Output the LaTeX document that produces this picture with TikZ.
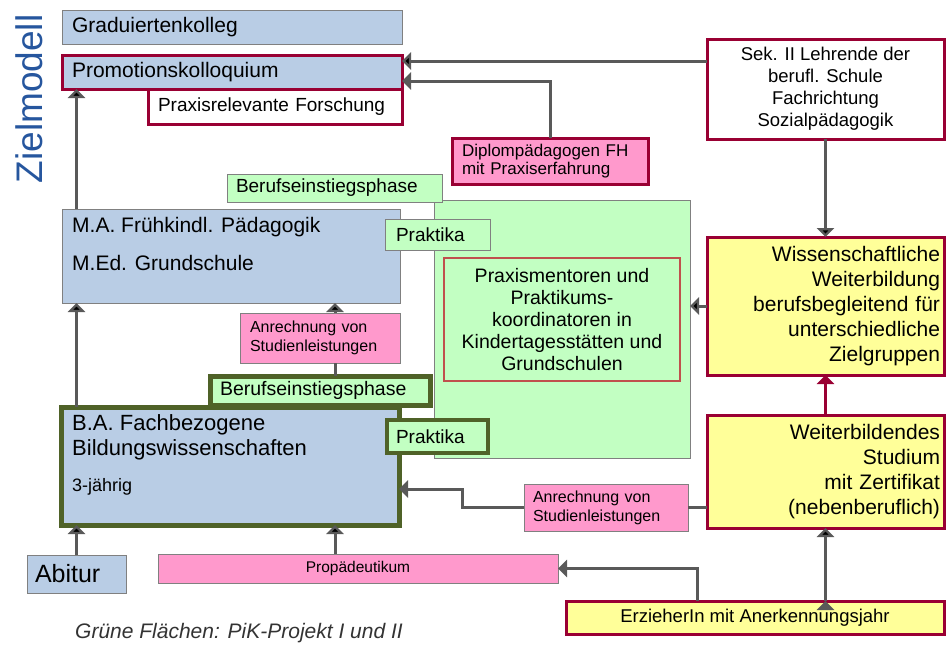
\documentclass[tikz,border=0pt]{standalone}
\usepackage{fontspec}
\setmainfont{Liberation Sans}
\usetikzlibrary{arrows.meta}
\definecolor{hellblau}{RGB}{185,205,229}
\definecolor{hellgruen}{RGB}{194,255,194}
\definecolor{rosa}{RGB}{255,153,204}
\definecolor{gelb}{RGB}{255,255,153}
\definecolor{weinrot}{RGB}{153,0,51}
\definecolor{oliv}{RGB}{79,98,40}
\definecolor{ziegel}{RGB}{192,80,77}
\definecolor{rahmen}{RGB}{128,128,128}
\definecolor{pfeil}{RGB}{89,89,89}
\definecolor{titelblau}{RGB}{38,86,158}
\newcommand{\fs}[2]{\fontsize{#1}{#2}\selectfont}

\begin{document}
\begin{tikzpicture}[x=1pt, y=-1pt,
  kasten/.style={draw=rahmen, line width=1pt, inner sep=0pt, outer sep=0pt, anchor=north west},
  blau/.style={kasten, fill=hellblau},
  gruen/.style={kasten, fill=hellgruen},
  pink/.style={kasten, fill=rosa},
  gelbkasten/.style={kasten, fill=gelb, draw=weinrot, line width=3pt},
  rotrand/.style={draw=weinrot, line width=3pt},
  olivrand/.style={draw=oliv, line width=5pt},
  links/.style 2 args={text width=#1, minimum height=#2, inner xsep=10pt, align=left},
  mitte/.style 2 args={minimum width=#1, minimum height=#2, align=center},
  txt/.style={inner sep=0pt, anchor=west},
  verb/.style={draw=pfeil, line width=3pt},
  pf/.style={-{Triangle[length=9pt 0 0,width=17pt 0 0]}}]
\useasboundingbox (0,0) rectangle (946,646);

\node[rotate=90, text=titelblau, font=\fs{37}{40}] (ziel) at (29,99) {Zielmodell};

\node[blau, links={320pt}{34pt}, font=\fs{21}{24}] (grad) at (62,10) {Graduiertenkolleg};
\node[blau, rotrand, links={320pt}{34pt}, font=\fs{21}{24}] (promo) at (62,55) {Promotionskolloquium};
\node[kasten, fill=white, rotrand, links={234pt}{35pt}, font=\fs{19}{22}] (forschung) at (148,89) {Praxisrelevante Forschung};
\node[kasten, fill=white, rotrand, mitte={237pt}{100pt}, font=\fs{18.5}{22}] (sek) at (707,39)
  {Sek. II Lehrende der\\berufl. Schule\\Fachrichtung\\Sozialpädagogik};
\node[pink, rotrand, links={176pt}{46pt}, font=\fs{17}{17.5}] (diplom) at (452,138)
  {Diplompädagogen FH\\mit Praxiserfahrung};

\node[gruen, mitte={256pt}{258pt}] (pik) at (434,200) {};
\node[gruen, links={197pt}{28pt}, inner xsep=9pt, font=\fs{19}{22}] (bep1) at (227,174) {Berufseinstiegsphase};
\node[blau, mitte={338pt}{94pt}] (ma) at (62,209) {};
\node[txt, font=\fs{21}{24}] (ma-1) at ([shift={(10,18)}]ma.north west) {M.A. Frühkindl. Pädagogik};
\node[txt, font=\fs{21}{24}] (ma-2) at ([shift={(10,54)}]ma.north west) {M.Ed. Grundschule};
\node[gruen, links={83pt}{31pt}, inner xsep=11pt, font=\fs{19}{22}] (prak1) at (385,219) {Praktika};
\node[gruen, draw=ziegel, line width=2pt, mitte={236pt}{123pt}, font=\fs{19.5}{22}] (mentoren) at (444,258)
  {Praxismentoren und\\Praktikums-\\koordinatoren in\\Kindertagesstätten und\\Grundschulen};
\node[gelbkasten, text width=229pt, inner xsep=4pt, minimum height=138pt, align=right, font=\fs{21}{25}] (wiss) at (707,237)
  {Wissenschaftliche\\Weiterbildung\\berufsbegleitend für\\unterschiedliche\\Zielgruppen};
\node[pink, links={140pt}{50pt}, font=\fs{16}{19}] (anr1) at (240,313) {Anrechnung von\\Studienleistungen};

\node[blau, olivrand, mitte={338pt}{118pt}] (ba) at (61,407) {};
\node[txt, font=\fs{22}{25}] (ba-1) at ([shift={(11,18)}]ba.north west) {B.A. Fachbezogene};
\node[txt, font=\fs{22}{25}] (ba-2) at ([shift={(11,43)}]ba.north west) {Bildungswissenschaften};
\node[txt, font=\fs{18}{21}] (ba-3) at ([shift={(11,80)}]ba.north west) {3-jährig};
\node[gruen, olivrand, links={200pt}{29pt}, font=\fs{19.5}{22}] (bep2) at (210,376) {Berufseinstiegsphase};
\node[gruen, draw=oliv, line width=4pt, links={83pt}{33pt}, inner xsep=9pt, font=\fs{19}{22}] (prak2) at (387,420) {Praktika};
\node[gelbkasten, text width=229pt, inner xsep=4pt, minimum height=113pt, align=right, font=\fs{21}{25}] (weiter) at (707,415)
  {Weiterbildendes\\Studium\\mit Zertifikat\\(nebenberuflich)};
\node[pink, links={146pt}{47pt}, inner xsep=9pt, font=\fs{16}{19}] (anr2) at (524,484) {Anrechnung von\\Studienleistungen};

\node[blau, links={83pt}{38pt}, inner xsep=8pt, font=\fs{25}{28}] (abi) at (27,555) {Abitur};
\node[pink, mitte={400pt}{29pt}, font=\fs{15.5}{18}] (prop) at (158,554) {Propädeutikum};
\node[gelbkasten, mitte={378pt}{33pt}, font=\fs{18.5}{21}] (erz) at (566,601) {ErzieherIn mit Anerkennungsjahr};

\node[txt, text=black!80, font=\itshape\fs{21}{24}] (legende) at (75,633) {Grüne Flächen: PiK-Projekt I und II};

\coordinate (achse) at (335,0);
\coordinate (sekaus) at ([yshift=-22pt]sek.north west);
\path[verb, pf]
  (abi.north) edge (abi.north |- ba.south)
  (abi.north |- ba.north) edge (abi.north |- ma.south)
  (abi.north |- ma.north) edge (abi.north |- promo.south)
  (achse |- prop.north) edge (achse |- ba.south)
  (achse |- anr1.north) edge (achse |- ma.south)
  (sekaus) edge (sekaus -| promo.east)
  (sek.south) edge (wiss.north)
  (wiss.west) edge (wiss.west -| pik.east)
  (erz.north -| weiter.south) edge (weiter.south);
\draw[verb] (achse |- anr1.south) -- (achse |- bep2.north);
\draw[verb, pf] (diplom.north) |- ([yshift=-9pt]promo.east);
\draw[verb] (weiter.west |- anr2.east) -- (anr2.east);
\draw[verb, pf] (anr2.west) -- ++(-62,0) |- ([yshift=-23pt]ba.east);
\draw[verb, pf] ([xshift=131pt]erz.north west) |- (prop.east);
\draw[verb, draw=weinrot, pf] (weiter.north) -- (wiss.south);
\end{tikzpicture}
\end{document}
